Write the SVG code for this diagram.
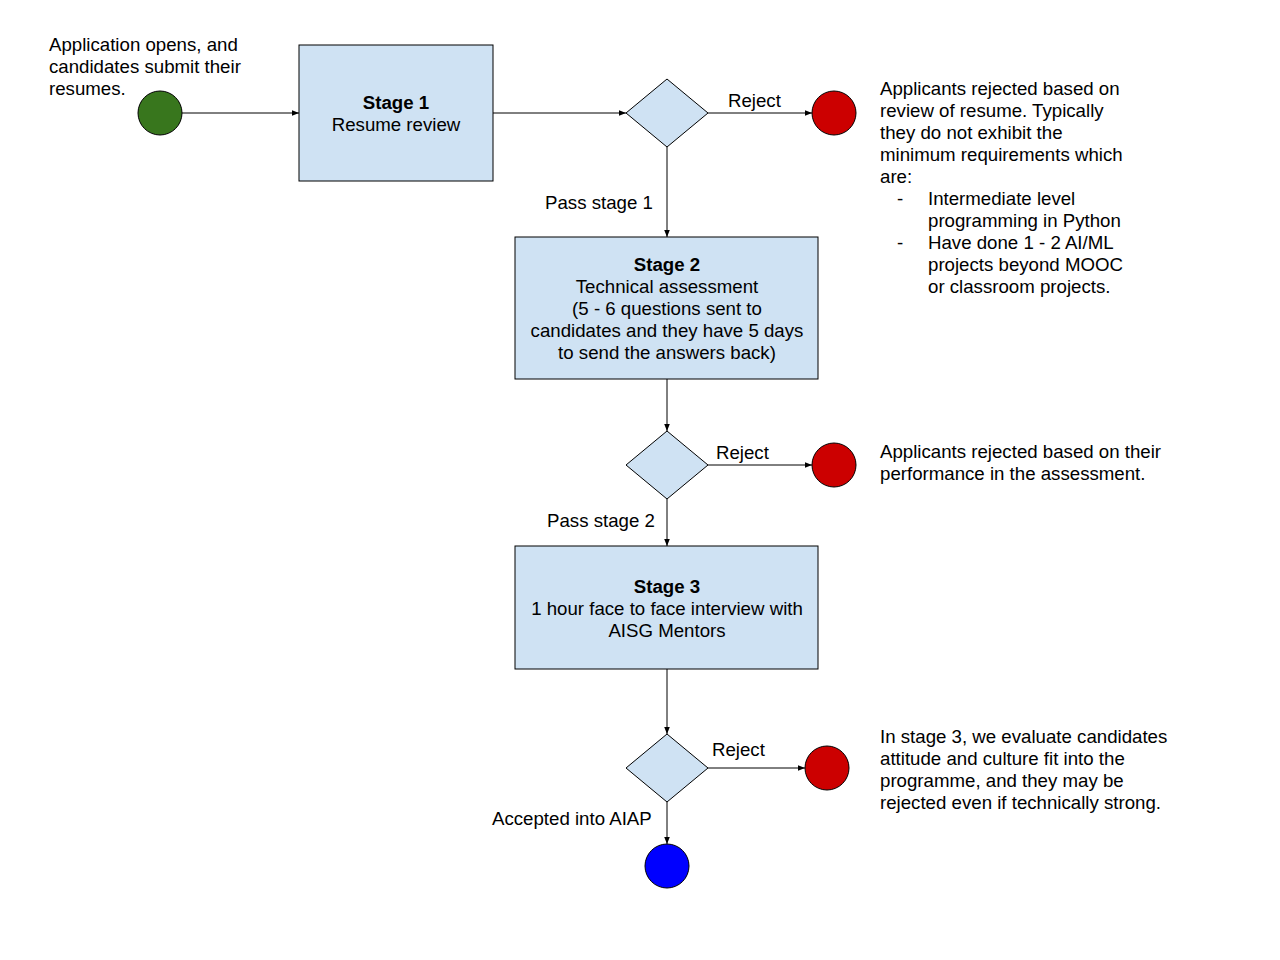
<svg xmlns="http://www.w3.org/2000/svg" width="1280" height="960" viewBox="0 0 1280 960">
<defs>
<style>
text{font-family:"Liberation Sans",Arial,sans-serif;font-size:18.67px;fill:#000}
.b{font-weight:bold}
.c{text-anchor:middle}
.box{fill:#cfe2f3;stroke:#000;stroke-width:1}
.ln{fill:none;stroke:#000;stroke-width:1;marker-end:url(#ah)}
.red{fill:#cc0000;stroke:#000;stroke-width:1}
</style>
<marker id="ah" viewBox="0 0 10 10" refX="10" refY="5" markerWidth="7" markerHeight="7" markerUnits="userSpaceOnUse" orient="auto">
<path d="M0,1 L10,5 L0,9 z" fill="#000"/>
</marker>
</defs>
<rect width="1280" height="960" fill="#fff"/>
<g id="connectors">
<line class="ln" x1="182" y1="113" x2="299" y2="113"/>
<line class="ln" x1="493" y1="113" x2="626" y2="113"/>
<line class="ln" x1="708" y1="113" x2="812" y2="113"/>
<line class="ln" x1="667" y1="147" x2="667" y2="237"/>
<line class="ln" x1="667" y1="379" x2="667" y2="431"/>
<line class="ln" x1="708" y1="465" x2="812" y2="465"/>
<line class="ln" x1="667" y1="499" x2="667" y2="546"/>
<line class="ln" x1="667" y1="669" x2="667" y2="734"/>
<line class="ln" x1="708" y1="768" x2="805" y2="768"/>
<line class="ln" x1="667" y1="802" x2="667" y2="844"/>
<text x="728" y="107">Reject</text>
<text x="716" y="459">Reject</text>
<text x="712" y="756">Reject</text>
<text x="545" y="209">Pass stage 1</text>
<text x="547" y="527">Pass stage 2</text>
<text x="492" y="825">Accepted into AIAP</text>
</g>
<g id="start">
<circle cx="160" cy="113" r="22" fill="#38761d" stroke="#000"/>
<text x="49" y="51">Application opens, and</text>
<text x="49" y="73">candidates submit their</text>
<text x="49" y="95">resumes.</text>
</g>
<g id="stage1">
<rect class="box" x="299" y="45" width="194" height="136"/>
<text class="c b" x="396" y="109">Stage 1</text>
<text class="c" x="396" y="131">Resume review</text>
</g>
<g id="decision1">
<polygon class="box" points="667,79 708,113 667,147 626,113"/>
</g>
<g id="reject1">
<circle class="red" cx="834" cy="113" r="22"/>
<text x="880" y="95">Applicants rejected based on</text>
<text x="880" y="117">review of resume. Typically</text>
<text x="880" y="139">they do not exhibit the</text>
<text x="880" y="161">minimum requirements which</text>
<text x="880" y="183">are:</text>
<text x="897" y="205">-</text>
<text x="928" y="205">Intermediate level</text>
<text x="928" y="227">programming in Python</text>
<text x="897" y="249">-</text>
<text x="928" y="249">Have done 1 - 2 AI/ML</text>
<text x="928" y="271">projects beyond MOOC</text>
<text x="928" y="293">or classroom projects.</text>
</g>
<g id="stage2">
<rect class="box" x="515" y="237" width="303" height="142"/>
<text class="c b" x="667" y="271">Stage 2</text>
<text class="c" x="667" y="293">Technical assessment</text>
<text class="c" x="667" y="315">(5 - 6 questions sent to</text>
<text class="c" x="667" y="337">candidates and they have 5 days</text>
<text class="c" x="667" y="359">to send the answers back)</text>
</g>
<g id="decision2">
<polygon class="box" points="667,431 708,465 667,499 626,465"/>
</g>
<g id="reject2">
<circle class="red" cx="834" cy="465" r="22"/>
<text x="880" y="458">Applicants rejected based on their</text>
<text x="880" y="480">performance in the assessment.</text>
</g>
<g id="stage3">
<rect class="box" x="515" y="546" width="303" height="123"/>
<text class="c b" x="667" y="593">Stage 3</text>
<text class="c" x="667" y="615">1 hour face to face interview with</text>
<text class="c" x="667" y="637">AISG Mentors</text>
</g>
<g id="decision3">
<polygon class="box" points="667,734 708,768 667,802 626,768"/>
</g>
<g id="reject3">
<circle class="red" cx="827" cy="768" r="22"/>
<text x="880" y="743">In stage 3, we evaluate candidates</text>
<text x="880" y="765">attitude and culture fit into the</text>
<text x="880" y="787">programme, and they may be</text>
<text x="880" y="809">rejected even if technically strong.</text>
</g>
<g id="accepted">
<circle cx="667" cy="866" r="22" fill="#0000ff" stroke="#000"/>
</g>
</svg>
